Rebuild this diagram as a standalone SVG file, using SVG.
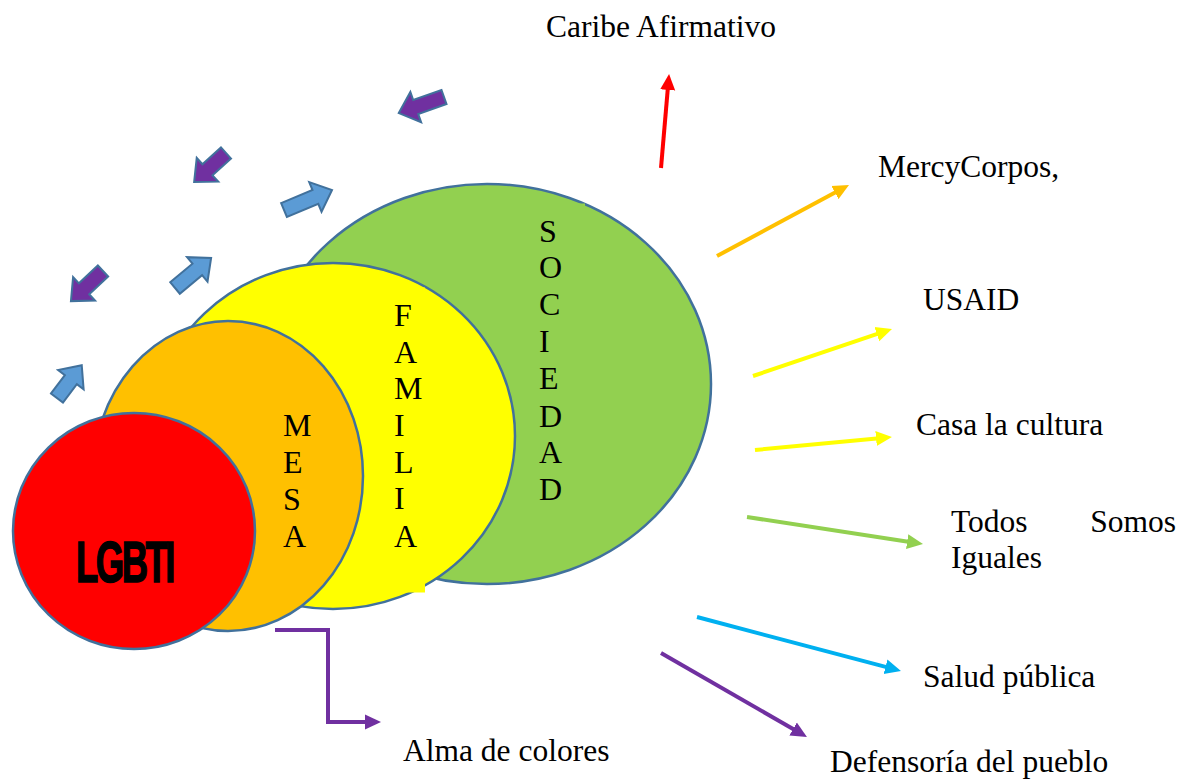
<svg xmlns="http://www.w3.org/2000/svg" width="1179" height="780" viewBox="0 0 1179 780">
<style>
.circ{stroke:#41719C;stroke-width:2.5}
.box{stroke:none}
.lbl{font-family:"Liberation Serif","Times New Roman",serif;font-size:31.5px;fill:#000}
.vert{font-family:"Liberation Serif","Times New Roman",serif;font-size:32px;fill:#000}
.ba{stroke:#41719C;stroke-width:2;stroke-linejoin:miter}
.bb{fill:#5B9BD5}
.bp{fill:#7030A0}
.ln{fill:none;stroke-width:4}
</style>
<defs>
<marker id="mRed" markerUnits="userSpaceOnUse" markerWidth="16" markerHeight="16" viewBox="0 0 16 16" refX="6" refY="8" orient="auto"><path d="M0,0.5 L16,8 L0,15.5 Z" fill="#FF0000"/></marker>
<marker id="mOrange" markerUnits="userSpaceOnUse" markerWidth="16" markerHeight="16" viewBox="0 0 16 16" refX="6" refY="8" orient="auto"><path d="M0,0.5 L16,8 L0,15.5 Z" fill="#FFC000"/></marker>
<marker id="mYellow" markerUnits="userSpaceOnUse" markerWidth="16" markerHeight="16" viewBox="0 0 16 16" refX="6" refY="8" orient="auto"><path d="M0,0.5 L16,8 L0,15.5 Z" fill="#FFFF00"/></marker>
<marker id="mGreen" markerUnits="userSpaceOnUse" markerWidth="16" markerHeight="16" viewBox="0 0 16 16" refX="6" refY="8" orient="auto"><path d="M0,0.5 L16,8 L0,15.5 Z" fill="#92D050"/></marker>
<marker id="mBlue" markerUnits="userSpaceOnUse" markerWidth="16" markerHeight="16" viewBox="0 0 16 16" refX="6" refY="8" orient="auto"><path d="M0,0.5 L16,8 L0,15.5 Z" fill="#00B0F0"/></marker>
<marker id="mPurple" markerUnits="userSpaceOnUse" markerWidth="16" markerHeight="16" viewBox="0 0 16 16" refX="6" refY="8" orient="auto"><path d="M0,0.5 L16,8 L0,15.5 Z" fill="#7030A0"/></marker>
</defs>
<rect width="1179" height="780" fill="#fff"/>

<g id="sociedad">
<ellipse class="circ" cx="487" cy="384" rx="224" ry="200" fill="#92D050"/>
<rect class="box" x="530" y="203.5" width="55" height="310" fill="#92D050"/>
<text class="vert"><tspan x="539" y="242">S</tspan><tspan x="539" y="278">O</tspan><tspan x="539" y="315">C</tspan><tspan x="539" y="352">I</tspan><tspan x="539" y="389">E</tspan><tspan x="539" y="427">D</tspan><tspan x="539" y="463">A</tspan><tspan x="539" y="500">D</tspan></text>
</g>

<g id="familia">
<ellipse class="circ" cx="333" cy="436" rx="182" ry="173" fill="#FFFF00"/>
<rect class="box" x="385" y="287.5" width="40" height="305" fill="#FFFF00"/>
<text class="vert"><tspan x="394" y="326">F</tspan><tspan x="394" y="363">A</tspan><tspan x="394" y="399">M</tspan><tspan x="394" y="436">I</tspan><tspan x="394" y="473">L</tspan><tspan x="394" y="509">I</tspan><tspan x="394" y="547">A</tspan></text>
</g>

<g id="mesa">
<ellipse class="circ" cx="228" cy="476" rx="135" ry="155" fill="#FFC000"/>
<text class="vert"><tspan x="283" y="436">M</tspan><tspan x="283" y="473">E</tspan><tspan x="283" y="510">S</tspan><tspan x="283" y="547">A</tspan></text>
</g>

<g id="lgbti">
<ellipse class="circ" cx="134" cy="531" rx="121" ry="118" fill="#FF0000"/>
<text x="76" y="582" font-family="'Liberation Sans',Arial,sans-serif" font-weight="bold" font-size="58" textLength="97" lengthAdjust="spacingAndGlyphs" letter-spacing="-4" fill="#000" stroke="#000" stroke-width="1.5">LGBTI</text>
</g>

<g id="block-arrows">
<polygon class="ba bp" points="0,-7.5 30,-7.5 30,-16 48,0 30,16 30,7.5 0,7.5" transform="translate(444,97) rotate(160.4)"/>
<polygon class="ba bp" points="0,-7.5 25,-7.5 25,-16 43,0 25,16 25,7.5 0,7.5" transform="translate(226,153) rotate(137.8)"/>
<polygon class="ba bb" points="0,-7.5 34,-7.5 34,-16 52,0 34,16 34,7.5 0,7.5" transform="translate(284,210) rotate(-22.6)"/>
<polygon class="ba bb" points="0,-7.5 29,-7.5 29,-16 47,0 29,16 29,7.5 0,7.5" transform="translate(175,288) rotate(-39.8)"/>
<polygon class="ba bp" points="0,-7.5 26,-7.5 26,-16 44,0 26,16 26,7.5 0,7.5" transform="translate(103,271) rotate(136.8)"/>
<polygon class="ba bb" points="0,-7.5 23,-7.5 23,-16 41,0 23,16 23,7.5 0,7.5" transform="translate(57,398) rotate(-52.9)"/>
</g>

<g id="connectors">
<line class="ln" x1="661" y1="168" x2="668.2" y2="84" stroke="#FF0000" marker-end="url(#mRed)"/>
<line class="ln" x1="717" y1="256" x2="840.2" y2="189.7" stroke="#FFC000" marker-end="url(#mOrange)"/>
<line class="ln" x1="753" y1="376" x2="882.5" y2="332.2" stroke="#FFFF00" marker-end="url(#mYellow)"/>
<line class="ln" x1="755" y1="450" x2="882" y2="437.9" stroke="#FFFF00" marker-end="url(#mYellow)"/>
<line class="ln" x1="747" y1="517" x2="913.1" y2="542.5" stroke="#92D050" marker-end="url(#mGreen)"/>
<line class="ln" x1="697" y1="617" x2="891.3" y2="668.4" stroke="#00B0F0" marker-end="url(#mBlue)"/>
<line class="ln" x1="661" y1="653" x2="798.3" y2="732" stroke="#7030A0" marker-end="url(#mPurple)"/>
<polyline class="ln" points="275,630 328,630 328,722 371,722" stroke="#7030A0" stroke-width="3" marker-end="url(#mPurple)"/>
</g>

<g id="labels">
<text class="lbl" x="546" y="37">Caribe Afirmativo</text>
<text class="lbl" x="878" y="177">MercyCorpos,</text>
<text class="lbl" x="923" y="310">USAID</text>
<text class="lbl" x="916" y="435">Casa la cultura</text>
<text class="lbl" x="951" y="532">Todos</text>
<text class="lbl" x="1176" y="532" text-anchor="end">Somos</text>
<text class="lbl" x="951" y="568">Iguales</text>
<text class="lbl" x="923" y="687">Salud pública</text>
<text class="lbl" x="830" y="772">Defensoría del pueblo</text>
<text class="lbl" x="403" y="761">Alma de colores</text>
</g>
</svg>
